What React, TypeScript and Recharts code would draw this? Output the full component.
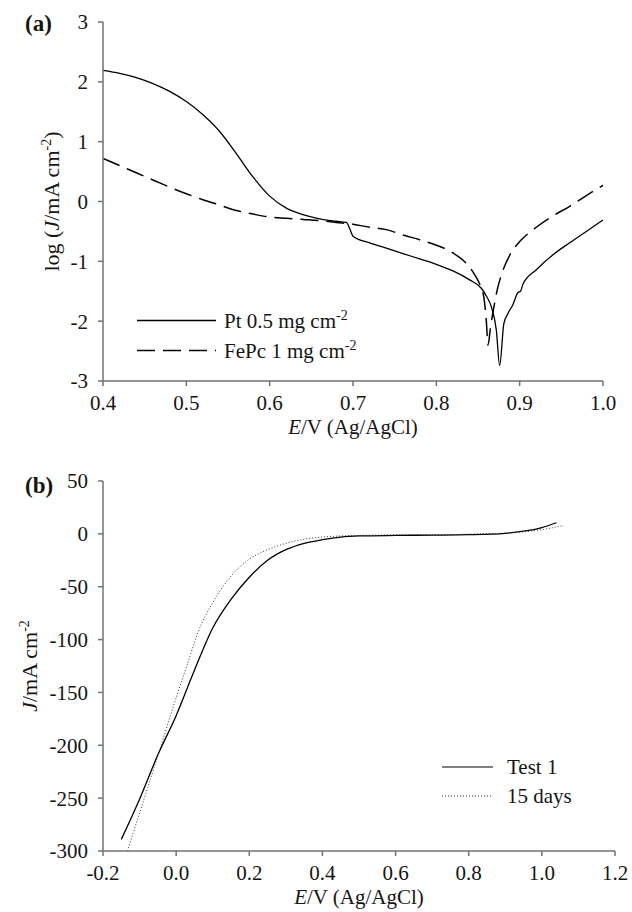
import { LineChart, Line, XAxis, YAxis, Legend, Customized } from 'recharts'

// (a) Tafel plots, log J vs E
const ptE = [0.4, 0.42, 0.44, 0.46, 0.48, 0.5, 0.52, 0.54, 0.56, 0.58, 0.6, 0.62, 0.64, 0.66, 0.68, 0.692, 0.696, 0.7, 0.72, 0.74, 0.76, 0.78, 0.8, 0.82, 0.84, 0.854, 0.86, 0.866, 0.872, 0.876, 0.881, 0.886, 0.892, 0.898, 0.901, 0.904, 0.92, 0.94, 0.96, 0.98, 1.0]
const ptLogJ = [2.19, 2.14, 2.07, 1.97, 1.84, 1.67, 1.45, 1.17, 0.8, 0.41, 0.09, -0.11, -0.22, -0.29, -0.33, -0.35, -0.45, -0.58, -0.69, -0.78, -0.87, -0.96, -1.05, -1.16, -1.31, -1.45, -1.58, -1.76, -2.15, -2.74, -2.04, -1.87, -1.72, -1.52, -1.5, -1.38, -1.14, -0.89, -0.69, -0.5, -0.31]

const fepcE = [0.4, 0.42, 0.44, 0.46, 0.48, 0.5, 0.52, 0.54, 0.56, 0.58, 0.6, 0.62, 0.64, 0.66, 0.68, 0.7, 0.72, 0.74, 0.76, 0.78, 0.8, 0.82, 0.835, 0.845, 0.852, 0.857, 0.86, 0.862, 0.865, 0.868, 0.873, 0.88, 0.89, 0.9, 0.92, 0.94, 0.96, 0.98, 1.0]
const fepcLogJ = [0.72, 0.6, 0.48, 0.36, 0.24, 0.13, 0.03, -0.06, -0.15, -0.21, -0.26, -0.28, -0.3, -0.32, -0.35, -0.38, -0.43, -0.47, -0.56, -0.64, -0.73, -0.86, -1.02, -1.2, -1.38, -1.6, -2.0, -2.4, -2.1, -1.85, -1.48, -1.15, -0.85, -0.67, -0.43, -0.24, -0.08, 0.1, 0.27]

const aTicksX = [0.4, 0.5, 0.6, 0.7, 0.8, 0.9, 1.0]
const aTicksY = [-3, -2, -1, 0, 1, 2, 3]

// (b) polarisation curves, J vs E
const test1E = [-0.15, -0.1, -0.05, 0.0, 0.05, 0.1, 0.15, 0.2, 0.25, 0.3, 0.35, 0.4, 0.45, 0.5, 0.6, 0.7, 0.8, 0.9, 0.95, 1.0, 1.04]
const test1J = [-289, -251, -209, -172, -129, -89, -62, -41, -25, -15, -9, -5.5, -3, -2, -1.5, -1.2, -0.8, 0.5, 2.5, 6, 10.5]

const days15E = [-0.133, -0.1, -0.05, 0.0, 0.03, 0.06, 0.1, 0.15, 0.2, 0.25, 0.3, 0.35, 0.4, 0.5, 0.6, 0.7, 0.8, 0.9, 0.95, 1.0, 1.06]
const days15J = [-300, -264, -210, -155, -124, -93, -65, -40, -24, -15, -9, -5, -3, -1.5, -1, -0.8, -0.3, 0.8, 2, 4, 8]

const bTicksX = [-0.2, 0.0, 0.2, 0.4, 0.6, 0.8, 1.0, 1.2]
const bTicksY = [-300, -250, -200, -150, -100, -50, 0, 50]

const ptData = ptE.map((e, i) => ({ e, v: ptLogJ[i] }))
const fepcData = fepcE.map((e, i) => ({ e, v: fepcLogJ[i] }))
const test1Data = test1E.map((e, i) => ({ e, v: test1J[i] }))
const days15Data = days15E.map((e, i) => ({ e, v: days15J[i] }))

const SERIF = 'Liberation Serif'
const AXIS = '#727272'
const TEXT = '#151515'
const FS = 21

const tickStyle = { fontSize: FS, fill: TEXT, fontFamily: SERIF, style: { fontFamily: SERIF } }
const axisLine = { stroke: AXIS, strokeWidth: 1.5 }

const XTitle = ({ viewBox }: any) => (
  <text x={viewBox.x + viewBox.width / 2} y={viewBox.y + 53} textAnchor="middle" style={{ fontFamily: SERIF }} fontSize={FS} fill={TEXT}>
    <tspan fontStyle="italic">E</tspan>/V (Ag/AgCl)
  </text>
)

// rotated y title, bx = baseline x
const YTitle = ({ viewBox, bx, log }: any) => {
  const cy = viewBox.y + viewBox.height / 2
  return (
    <text transform={`rotate(-90 ${bx} ${cy})`} x={bx} y={cy} textAnchor="middle" style={{ fontFamily: SERIF }} fontSize={22} fill={TEXT}>
      {log ? 'log (' : ''}
      <tspan fontStyle="italic">J</tspan>/mA cm
      <tspan dy={-8} fontSize={14}>-2</tspan>
      <tspan dy={8}>{log ? ')' : ''}</tspan>
    </text>
  )
}

const PanelTag = ({ label, y }: { label: string; y: number }) => (
  <text x={25} y={y} style={{ fontFamily: SERIF }} fontSize={23} fontWeight="bold" fill={TEXT}>{label}</text>
)

const LegendA = () => (
  <svg width={330} height={62} style={{ overflow: 'visible', display: 'block', fontFamily: SERIF }}>
    <line x1={0} x2={79} y1={15.5} y2={15.5} stroke="#000" strokeWidth={1.3} />
    <text x={87} y={22.5} fontSize={FS} fill={TEXT}>
      Pt 0.5 mg cm<tspan dy={-8} fontSize={14}>-2</tspan>
    </text>
    <line x1={0} x2={79} y1={45.5} y2={45.5} stroke="#000" strokeWidth={1.5} strokeDasharray="18 8" />
    <text x={87} y={52.5} fontSize={FS} fill={TEXT}>
      FePc 1 mg cm<tspan dy={-8} fontSize={14}>-2</tspan>
    </text>
  </svg>
)

const LegendB = () => (
  <svg width={200} height={60} style={{ overflow: 'visible', display: 'block', fontFamily: SERIF }}>
    <line x1={0} x2={51} y1={15} y2={15} stroke="#000" strokeWidth={1.2} />
    <text x={65} y={22} fontSize={FS} fill={TEXT}>Test 1</text>
    <line x1={0} x2={51} y1={44} y2={44} stroke="#333" strokeWidth={1} strokeDasharray="1 2" />
    <text x={65} y={51} fontSize={FS} fill={TEXT}>15 days</text>
  </svg>
)

export default function App() {
  return (
    <div style={{ position: 'absolute', left: 0, top: 0, width: 632, height: 912, background: '#fff', fontFamily: SERIF }}>
      <LineChart width={632} height={450} margin={{ top: 22, right: 29, left: 0, bottom: 0 }}>
        <XAxis
          dataKey="e"
          type="number"
          domain={[0.4, 1.0]}
          ticks={aTicksX}
          tickFormatter={(v: number) => v.toFixed(1)}
          allowDataOverflow
          height={69}
          tickSize={5}
          tickMargin={9}
          axisLine={axisLine}
          tickLine={axisLine}
          tick={tickStyle}
          label={{ content: (p: any) => <XTitle viewBox={p.viewBox} /> }}
        />
        <XAxis xAxisId="top" orientation="top" type="number" domain={[0.4, 1.0]} height={0} tick={false} tickLine={false} axisLine={axisLine} />
        <YAxis
          type="number"
          domain={[-3, 3]}
          ticks={aTicksY}
          allowDataOverflow
          width={103}
          tickSize={5}
          tickMargin={10}
          axisLine={axisLine}
          tickLine={axisLine}
          tick={tickStyle}
          label={{ content: (p: any) => <YTitle viewBox={p.viewBox} bx={59} log /> }}
        />
        <YAxis yAxisId="right" orientation="right" type="number" domain={[-3, 3]} width={0} tick={false} tickLine={false} axisLine={axisLine} />
        <Line data={ptData} dataKey="v" type="monotone" stroke="#000" strokeWidth={1.3} dot={false} isAnimationActive={false} name="Pt" />
        <Line data={fepcData} dataKey="v" type="monotone" stroke="#000" strokeWidth={1.5} strokeDasharray="18 8" dot={false} isAnimationActive={false} name="FePc" />
        <Legend layout="vertical" align="center" verticalAlign="middle" content={() => <LegendA />} wrapperStyle={{ left: 137, top: 305, width: 330 }} />
        <Customized component={() => <PanelTag label="(a)" y={31} />} />
      </LineChart>

      <LineChart width={632} height={462} margin={{ top: 31, right: 17, left: 0, bottom: 0 }}>
        <XAxis
          dataKey="e"
          type="number"
          domain={[-0.2, 1.2]}
          ticks={bTicksX}
          tickFormatter={(v: number) => v.toFixed(1)}
          allowDataOverflow
          height={61}
          tickSize={5}
          tickMargin={9}
          axisLine={axisLine}
          tickLine={axisLine}
          tick={tickStyle}
          label={{ content: (p: any) => <XTitle viewBox={p.viewBox} /> }}
        />
        <XAxis xAxisId="top" orientation="top" type="number" domain={[-0.2, 1.2]} height={0} tick={false} tickLine={false} axisLine={axisLine} />
        <YAxis
          type="number"
          domain={[-300, 50]}
          ticks={bTicksY}
          allowDataOverflow
          width={103}
          tickSize={5}
          tickMargin={10}
          axisLine={axisLine}
          tickLine={axisLine}
          tick={tickStyle}
          label={{ content: (p: any) => <YTitle viewBox={p.viewBox} bx={37} /> }}
        />
        <YAxis yAxisId="right" orientation="right" type="number" domain={[-300, 50]} width={0} tick={false} tickLine={false} axisLine={axisLine} />
        <Line data={test1Data} dataKey="v" type="monotone" stroke="#000" strokeWidth={1.3} dot={false} isAnimationActive={false} name="Test 1" />
        <Line data={days15Data} dataKey="v" type="monotone" stroke="#333" strokeWidth={1} strokeDasharray="1 2" dot={false} isAnimationActive={false} name="15 days" />
        <Legend layout="vertical" align="center" verticalAlign="middle" content={() => <LegendB />} wrapperStyle={{ left: 442, top: 302, width: 200 }} />
        <Customized component={() => <PanelTag label="(b)" y={43} />} />
      </LineChart>
    </div>
  )
}
